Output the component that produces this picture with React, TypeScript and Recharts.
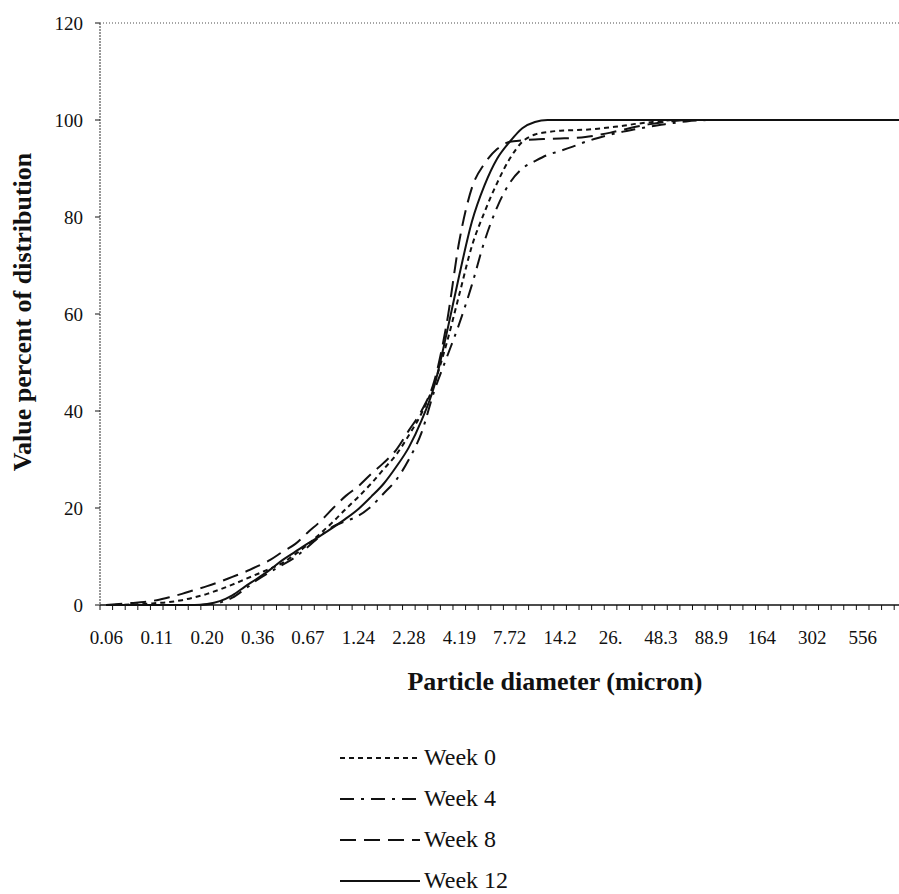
import { LineChart, Line, XAxis, YAxis, ReferenceLine, Legend, Label } from 'recharts';

// particle size classes (micron), one per category
const sizes = [
  '0.06', '0.069', '0.081', '0.094', '0.11', '0.128', '0.149', '0.173',
  '0.20', '0.234', '0.272', '0.316', '0.36', '0.428', '0.497', '0.578',
  '0.67', '0.783', '0.91', '1.06', '1.24', '1.44', '1.67', '1.95',
  '2.28', '2.64', '3.07', '3.57', '4.19', '4.84', '5.63', '6.55',
  '7.72', '8.87', '10.3', '12.0', '14.2', '16.2', '18.9', '21.9',
  '26.0', '29.7', '34.5', '40.2', '48.3', '54.4', '63.2', '73.6',
  '88.9', '99.6', '116', '135', '164', '182', '212', '247',
  '302', '334', '389', '452', '556', '613', '712', '828',
  '1020', '1121',
];

// printed labels, every 4th class
const tickLabels = ['0.06', '0.11', '0.20', '0.36', '0.67', '1.24', '2.28', '4.19', '7.72', '14.2', '26.', '48.3', '88.9', '164', '302', '556'];

const yTicks = [0, 20, 40, 60, 80, 100, 120];

const week0 = [
  0, 0.05, 0.1, 0.2, 0.4, 0.6, 1.0, 1.6, 2.3, 3.2, 4.2, 5.3, 6.4, 7.5, 8.7, 10.5,
  12.5, 14.8, 17.2, 19.8, 22.3, 25.0, 28.0, 31.0, 35.0, 39.5, 45.5, 54.0, 64.0, 74.0, 81.0, 87.0,
  92.0, 95.5, 97.0, 97.5, 97.8, 97.9, 98.0, 98.2, 98.5, 98.8, 99.2, 99.5, 99.8, 100, 100, 100,
  100, 100, 100, 100, 100, 100, 100, 100, 100, 100, 100, 100, 100, 100, 100, 100, 100, 100,
];
const week4 = [
  0, 0, 0, 0, 0, 0, 0, 0, 0.1, 0.5, 1.5, 3.3, 5.2, 6.8, 8.3, 9.9,
  12.0, 14.3, 16.2, 17.3, 18.4, 20.3, 23.0, 25.8, 30.0, 35.5, 44.0, 51.0, 58.0, 66.0, 75.0, 82.0,
  87.0, 90.0, 91.5, 92.8, 93.6, 94.5, 95.5, 96.3, 97.0, 97.6, 98.1, 98.6, 99.0, 99.4, 99.7, 99.9,
  100, 100, 100, 100, 100, 100, 100, 100, 100, 100, 100, 100, 100, 100, 100, 100, 100, 100,
];
const week8 = [
  0, 0.2, 0.4, 0.6, 1.0, 1.6, 2.3, 3.1, 3.9, 4.8, 5.8, 6.8, 8.0, 9.3, 11.0, 12.6,
  15.0, 17.3, 20.0, 22.5, 24.5, 27.0, 29.3, 32.0, 36.0, 40.0, 46.0, 58.0, 75.0, 86.0, 91.0, 94.0,
  95.5, 95.8, 96.0, 96.1, 96.2, 96.3, 96.5, 96.9, 97.4, 98.0, 98.6, 99.1, 99.5, 99.8, 100, 100,
  100, 100, 100, 100, 100, 100, 100, 100, 100, 100, 100, 100, 100, 100, 100, 100, 100, 100,
];
const week12 = [
  0, 0, 0, 0, 0, 0, 0, 0, 0.2, 0.8, 2.0, 3.8, 5.5, 7.3, 9.3, 11.0,
  12.7, 14.3, 16.0, 17.8, 19.8, 22.3, 25.0, 28.5, 32.5, 38.0, 45.0, 56.0, 68.0, 79.0, 86.5, 92.0,
  95.5, 98.3, 99.6, 100, 100, 100, 100, 100, 100, 100, 100, 100, 100, 100, 100, 100,
  100, 100, 100, 100, 100, 100, 100, 100, 100, 100, 100, 100, 100, 100, 100, 100, 100, 100,
];

const series = [
  { key: 'w0', name: 'Week 0', dash: '5 4' },
  { key: 'w4', name: 'Week 4', dash: '14 7 3 7' },
  { key: 'w8', name: 'Week 8', dash: '16 8' },
  { key: 'w12', name: 'Week 12', dash: undefined },
];

const data = sizes.map((size, i) => ({
  size,
  w0: week0[i],
  w4: week4[i],
  w8: week8[i],
  w12: week12[i],
}));

const FONT = "'Liberation Serif', 'Times New Roman', serif";
const INK = '#111';
const STEP = 12.6;

const SizeTick = (props: any) => {
  const { x, y, index } = props;
  const label = index % 4 === 0 ? tickLabels[index / 4] : undefined;
  return (
    <g>
      <line x1={x - STEP / 2} x2={x - STEP / 2} y1={y} y2={y + 5} stroke={INK} strokeWidth={1} />
      {label && (
        <text x={x} y={y + 39} textAnchor="middle" fontFamily={FONT} fontSize={19} fill={INK}>
          {label}
        </text>
      )}
    </g>
  );
};

const LegendBox = () => (
  <div style={{ fontFamily: FONT, fontSize: 24, color: INK }}>
    {series.map((s) => (
      <div key={s.key} style={{ display: 'flex', alignItems: 'center', height: 41 }}>
        <svg width={80} height={10}>
          <line x1={0} y1={5} x2={80} y2={5} stroke={INK} strokeWidth={2.2} strokeDasharray={s.dash} />
        </svg>
        <span style={{ marginLeft: 4 }}>{s.name}</span>
      </div>
    ))}
  </div>
);

export default function App() {
  return (
    <div style={{ position: 'absolute', left: 0, top: 0, width: 899, height: 894, overflow: 'hidden', background: '#fff' }}>
      <LineChart width={932} height={894} data={data} margin={{ top: 23, right: 0, bottom: 189, left: 0 }}>
        <XAxis
          dataKey="size"
          interval={0}
          height={100}
          padding={{ left: STEP / 2, right: STEP / 2 }}
          tick={<SizeTick />}
          tickLine={false}
          tickSize={0}
          tickMargin={0}
          axisLine={{ stroke: INK, strokeWidth: 1.5 }}
        >
          <Label
            content={() => (
              <text x={555} y={690} textAnchor="middle" fontFamily={FONT} fontSize={26} fontWeight="bold" fill={INK}>
                Particle diameter (micron)
              </text>
            )}
          />
        </XAxis>
        <YAxis
          domain={[0, 120]}
          ticks={yTicks}
          width={100}
          tickSize={5}
          tickMargin={12}
          tick={{ fontFamily: FONT, fontSize: 19, fill: INK }}
          tickLine={{ stroke: INK }}
          axisLine={{ stroke: '#777', strokeWidth: 1.5, strokeDasharray: '2 1' }}
        >
          <Label
            content={() => (
              <text
                x={31}
                y={312}
                transform="rotate(-90 31 312)"
                textAnchor="middle"
                fontFamily={FONT}
                fontSize={26}
                fontWeight="bold"
                fill={INK}
              >
                Value percent of distribution
              </text>
            )}
          />
        </YAxis>
        <ReferenceLine y={120} stroke="#888" strokeWidth={1.5} strokeDasharray="1 2" />
        <Legend
          layout="vertical"
          align="center"
          verticalAlign="middle"
          content={<LegendBox />}
          wrapperStyle={{ position: 'absolute', left: 340, top: 737, width: 220 }}
        />
        {series.map((s) => (
          <Line
            key={s.key}
            dataKey={s.key}
            name={s.name}
            type="monotone"
            stroke={INK}
            strokeWidth={2}
            strokeDasharray={s.dash}
            dot={false}
            isAnimationActive={false}
          />
        ))}
      </LineChart>
    </div>
  );
}
